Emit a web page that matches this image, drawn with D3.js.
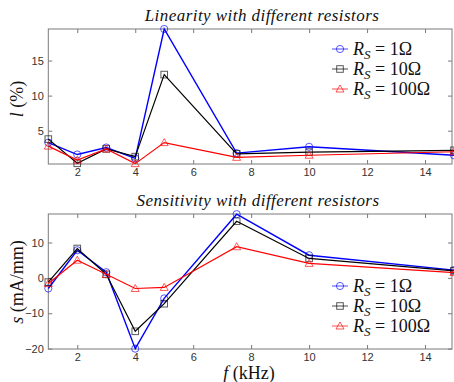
<!DOCTYPE html>
<html><head><meta charset="utf-8">
<script src="https://cdn.jsdelivr.net/npm/d3@7"></script>
<style>body{margin:0;background:#fff}svg{display:block}</style>
</head><body>
<svg id="c" width="454" height="382"></svg>
<script>
const freq = [1, 2, 3, 4, 5, 7.5, 10, 15];
const seriesNames = ["1Ω", "10Ω", "100Ω"];
const linR1 = [3.3, 1.6, 2.6, 1.05, 19.5, 1.8, 2.7, 1.5];
const linR10 = [3.8, 0.35, 2.4, 1.3, 13.0, 1.7, 1.95, 2.2];
const linR100 = [2.8, 0.8, 2.4, 0.3, 3.3, 1.2, 1.5, 2.0];
const senR1 = [-3.0, 7.8, 1.6, -20.0, -5.8, 18.0, 6.4, 2.2];
const senR10 = [-1.2, 8.3, 1.0, -15.1, -7.3, 16.0, 5.5, 2.0];
const senR100 = [-1.6, 5.0, 1.0, -3.0, -2.7, 8.8, 4.1, 1.5];
const xTicks = [2, 4, 6, 8, 10, 12, 14];
const linTicks = [5, 10, 15];
const senTicks = [-20, -10, 0, 10];
const colors = ["#0000ff", "#000000", "#ff0000"];
const markers = ["circle", "square", "triangle"];

const serif = "'Liberation Serif', 'Times New Roman', Times, serif";
const sans = "'Liberation Sans', Arial, Helvetica, sans-serif";
const svg = d3.select("#c");
const x = d3.scaleLinear().domain([1, 15]).range([48.3, 454]);
const boxRight = 452;

function panel(top, bottom, domain, yTicks, data, title, titleX, titleY, legendY) {
  const y = d3.scaleLinear().domain(domain).range([bottom, top]);
  const g = svg.append("g");
  g.append("rect").attr("x", x(1)).attr("y", top).attr("width", boxRight - x(1)).attr("height", bottom - top)
    .attr("fill", "none").attr("stroke", "#7a7a7a").attr("stroke-width", 1);
  const axB = g.append("g").attr("transform", `translate(0,${bottom})`)
    .call(d3.axisBottom(x).tickValues(xTicks).tickSizeInner(-4).tickSizeOuter(0).tickPadding(4));
  const axT = g.append("g").attr("transform", `translate(0,${top})`)
    .call(d3.axisTop(x).tickValues(xTicks).tickSizeInner(-4).tickSizeOuter(0).tickFormat(""));
  const axL = g.append("g").attr("transform", `translate(${x(1)},0)`)
    .call(d3.axisLeft(y).tickValues(yTicks).tickSizeInner(-4).tickSizeOuter(0).tickPadding(4.5));
  const axR = g.append("g").attr("transform", `translate(${boxRight},0)`)
    .call(d3.axisRight(y).tickValues(yTicks).tickSizeInner(-4).tickSizeOuter(0).tickFormat(""));
  [axB, axT, axL, axR].forEach(a => {
    a.select(".domain").remove();
    a.selectAll("line").attr("stroke", "#7a7a7a");
    a.selectAll("text").attr("fill", "#333").style("font-family", sans).style("font-size", "11px");
  });

  const line = d3.line().x((d, i) => x(freq[i])).y(d => y(d));
  data.forEach((vals, k) => {
    g.append("path").datum(vals).attr("d", line).attr("fill", "none")
      .attr("stroke", colors[k]).attr("stroke-width", k === 0 ? 1.4 : 1.2);
    vals.forEach((v, i) => drawMarker(g, markers[k], x(freq[i]), y(v), colors[k]));
  });

  svg.append("text").attr("x", titleX).attr("y", titleY).attr("text-anchor", "middle")
    .style("font-family", serif).style("font-style", "italic")
    .style("font-size", "17px").style("letter-spacing", "0.45px").attr("fill", "#111").text(title);

  data.forEach((vals, k) => {
    const ly = legendY + k * 20;
    svg.append("line").attr("x1", 332).attr("x2", 348).attr("y1", ly).attr("y2", ly)
      .attr("stroke", colors[k]).attr("stroke-width", 1).attr("stroke-opacity", 0.7);
    drawMarker(svg, markers[k], 340, ly, colors[k]);
    const t = svg.append("text").attr("x", 353).attr("y", ly + 6)
      .style("font-family", serif).style("font-size", "18px").attr("fill", "#111");
    t.append("tspan").style("font-style", "italic").text("R");
    t.append("tspan").style("font-style", "italic").style("font-size", "13px").attr("dy", 4).text("S");
    t.append("tspan").attr("dy", -4).text(" = " + seriesNames[k]);
  });
}

function drawMarker(g, type, cx, cy, color) {
  const op = 0.65;
  if (type === "circle") {
    g.append("circle").attr("cx", cx).attr("cy", cy).attr("r", 3.6).attr("fill", "none")
      .attr("stroke", color).attr("stroke-opacity", op);
  } else if (type === "square") {
    g.append("rect").attr("x", cx - 3.3).attr("y", cy - 3.3).attr("width", 6.6).attr("height", 6.6)
      .attr("fill", "none").attr("stroke", color).attr("stroke-opacity", op);
  } else {
    g.append("path").attr("d", `M${cx},${cy - 4}L${cx + 4},${cy + 3}L${cx - 4},${cy + 3}Z`)
      .attr("fill", "none").attr("stroke", color).attr("stroke-opacity", op);
  }
}

panel(29, 164, [0.25, 19.5], linTicks, [linR1, linR10, linR100],
  "Linearity with different resistors", 262, 21, 49);
panel(214, 349, [-20.1, 18.05], senTicks, [senR1, senR10, senR100],
  "Sensitivity with different resistors", 258, 206, 286);

const yl1 = svg.append("text").attr("transform", "translate(23,99) rotate(-90)").attr("text-anchor", "middle")
  .style("font-family", serif).style("font-size", "18px").attr("fill", "#111");
yl1.append("tspan").style("font-style", "italic").text("l");
yl1.append("tspan").text(" (%)");
const yl2 = svg.append("text").attr("transform", "translate(23,282) rotate(-90)").attr("text-anchor", "middle")
  .style("font-family", serif).style("font-size", "18px").attr("fill", "#111");
yl2.append("tspan").style("font-style", "italic").text("s");
yl2.append("tspan").text(" (mA/mm)");
const xl = svg.append("text").attr("x", 249).attr("y", 379).attr("text-anchor", "middle")
  .style("font-family", serif).style("font-size", "18px").attr("fill", "#111");
xl.append("tspan").style("font-style", "italic").text("f");
xl.append("tspan").text(" (kHz)");
</script>
</body></html>
